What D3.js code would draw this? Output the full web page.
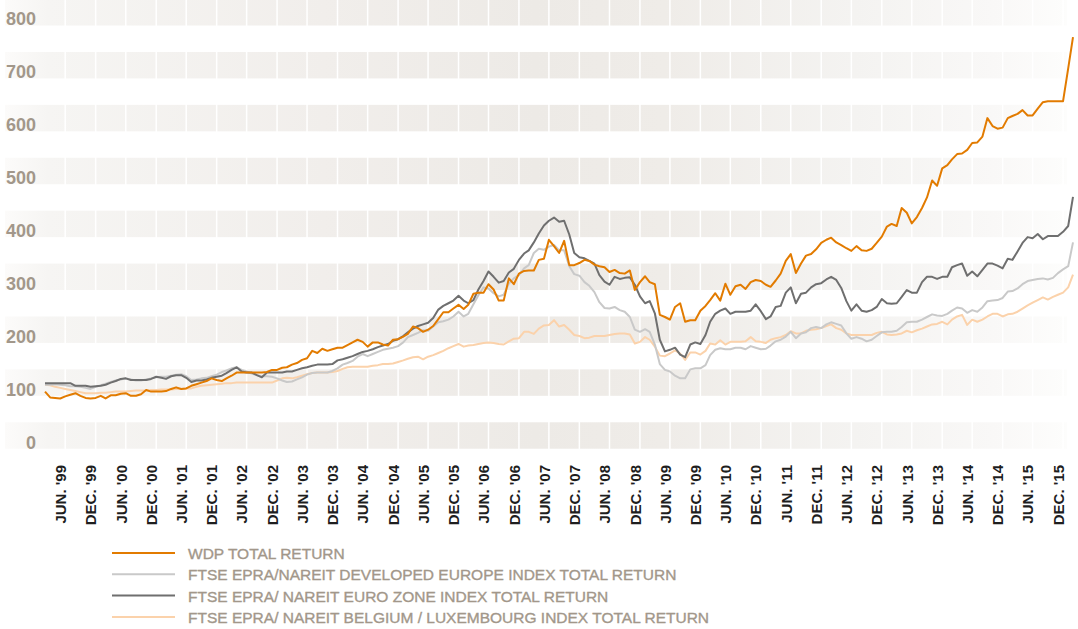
<!DOCTYPE html>
<html>
<head>
<meta charset="utf-8">
<script src="https://cdn.jsdelivr.net/npm/d3@7/dist/d3.min.js"></script>
<style>
  body { margin: 0; background: #fff; }
  svg { display: block; }
</style>
</head>
<body>
<svg id="chart" width="1078" height="629"></svg>
<script>
// monthly index values, Mar '99 -> Mar '16
const startMonth = new Date(1999, 2, 1);
const endMonth = new Date(2016, 2, 1);

const wdp = [
  83,72,71,70,74,77,80,75,71,70,
  71,75,70,76,76,79,80,75,75,78,
  86,83,83,83,84,88,91,88,89,94,
  97,100,103,108,105,103,108,113,119,119,
  119,119,119,119,120,124,124,128,129,134,
  137,143,146,160,156,164,160,163,166,166,
  171,176,181,177,168,176,176,172,170,181,
  182,187,192,206,203,196,200,207,220,233,
  233,240,247,239,247,268,270,270,286,276,
  255,255,297,286,306,311,312,312,332,334,
  370,358,345,368,322,322,326,332,330,323,
  320,318,309,313,307,306,312,275,290,301,
  290,286,228,224,219,243,250,215,218,218,
  236,245,256,269,255,287,266,282,285,277,
  290,294,292,285,281,293,306,330,343,307,
  325,340,343,352,364,370,374,365,360,354,
  349,358,350,349,353,364,376,395,400,396,
  430,421,401,413,430,450,482,472,505,511,
  522,532,533,540,553,554,565,600,585,580,
  582,600,604,608,615,605,605,618,630,632,
  632,632,632,694,753
];

const developedEurope = [
  96,96,97,96,95,93,93,92,90,88,
  92,95,98,101,104,106,108,106,104,104,
  106,108,110,111,111,113,115,116,112,105,
  106,108,109,112,115,120,123,127,129,124,
  121,117,114,112,112,111,108,104,101,102,
  106,110,115,118,119,119,119,122,127,134,
  137,141,149,154,150,154,158,162,164,166,
  169,176,186,190,194,199,198,206,214,216,
  219,225,234,225,230,248,265,280,278,269,
  263,266,287,297,303,316,322,345,353,351,
  357,360,350,350,320,305,302,290,283,271,
  252,241,240,243,237,234,224,200,196,201,
  196,172,135,124,121,113,108,108,125,127,
  127,133,152,162,165,163,163,166,166,163,
  169,166,163,164,170,178,181,187,196,184,
  193,195,203,205,203,210,214,211,208,193,
  183,186,183,178,181,188,195,196,196,198,
  205,214,215,215,219,224,229,227,226,230,
  236,242,240,232,237,234,242,254,255,256,
  260,272,273,278,286,292,294,296,297,295,
  298,307,314,320,365
];

const euroZone = [
  99,99,99,99,99,99,94,94,94,92,
  93,94,96,100,103,107,108,105,105,105,
  105,107,111,109,107,112,114,114,109,101,
  104,104,106,109,111,113,118,124,129,121,
  119,119,114,110,119,119,119,119,121,121,
  124,127,129,132,134,134,134,135,142,144,
  147,150,154,158,160,163,167,170,173,179,
  182,188,195,202,207,210,213,222,238,245,
  250,255,264,255,250,256,276,292,310,300,
  289,292,308,315,332,344,350,365,382,397,
  406,412,404,406,380,345,337,335,330,325,
  303,291,285,300,296,298,299,285,263,250,
  254,231,181,159,162,166,153,148,172,176,
  173,190,215,230,236,240,230,234,234,234,
  236,248,235,220,225,243,245,270,280,250,
  268,270,280,286,288,295,300,294,279,254,
  236,248,236,234,237,243,258,250,249,250,
  262,275,270,270,290,300,300,296,300,300,
  318,322,325,302,310,301,313,325,325,321,
  316,334,332,348,364,375,373,381,371,377,
  377,377,385,396,451
];

const belgiumLux = [
  96,95,92,90,88,86,84,82,80,80,
  80,81,81,82,83,83,83,84,85,85,
  85,86,86,87,87,87,88,88,89,89,
  92,94,95,96,97,98,99,99,100,100,
  100,100,100,100,100,100,104,108,109,108,
  110,113,116,118,119,119,119,120,122,126,
  129,130,130,130,130,132,133,135,135,136,
  139,142,145,148,149,144,149,152,156,160,
  165,169,173,168,170,171,173,175,176,175,
  173,172,178,183,184,196,196,192,202,208,
  209,218,206,209,200,190,188,184,185,188,
  188,188,190,192,193,193,191,174,177,186,
  181,168,151,150,155,161,155,143,157,157,
  153,160,174,172,180,172,177,177,177,178,
  186,178,177,175,181,184,186,190,197,193,
  193,198,200,201,203,207,210,203,200,193,
  190,190,190,190,190,194,196,191,190,191,
  193,198,195,199,202,206,210,211,215,210,
  219,225,228,209,219,215,219,225,230,230,
  225,229,230,234,240,246,251,256,261,257,
  262,266,270,280,304
];

const yTicks = [0, 100, 200, 300, 400, 500, 600, 700, 800];
const seriesNames = [
  'WDP TOTAL RETURN',
  'FTSE EPRA/NAREIT DEVELOPED EUROPE INDEX TOTAL RETURN',
  'FTSE EPRA/ NAREIT EURO ZONE INDEX TOTAL RETURN',
  'FTSE EPRA/ NAREIT BELGIUM / LUXEMBOURG INDEX TOTAL RETURN'
];
const seriesColors = ['#e27b00', '#c9c9c9', '#6f6f6f', '#fbd2ab'];
const monthNames = ['JAN.','FEB.','MAR.','APR.','MAY','JUN.','JUL.','AUG.','SEP.','OCT.','NOV.','DEC.'];

const svg = d3.select('#chart');
const months = d3.timeMonth.range(startMonth, d3.timeMonth.offset(endMonth, 1));

const x = d3.scaleTime()
  .domain([startMonth, endMonth])
  .range([45, 1073]);

const y = d3.scaleLinear()
  .domain([0, 800])
  .range([435.5, 12.3]);

// band shading, darker in the middle and fading out at both ends
const grad = svg.append('defs').append('linearGradient')
  .attr('id', 'bandFill')
  .attr('gradientUnits', 'userSpaceOnUse')
  .attr('x1', 5).attr('x2', 1067).attr('y1', 0).attr('y2', 0);
grad.selectAll('stop')
  .data([[0, '#fcfbfa'], [0.04, '#f6f5f3'], [0.3, '#f1eeeb'], [0.5, '#edeae6'], [0.62, '#efece8'], [0.8, '#f4f3f1'], [0.93, '#f9f8f7'], [1, '#fdfdfc']])
  .enter().append('stop')
  .attr('offset', d => d[0])
  .attr('stop-color', d => d[1]);

svg.append('g')
  .selectAll('rect')
  .data(yTicks)
  .enter().append('rect')
  .attr('x', 5)
  .attr('width', 1062)
  .attr('y', d => Math.max(0, y(d + 25)))
  .attr('height', d => y(d - 25) - Math.max(0, y(d + 25)))
  .attr('fill', 'url(#bandFill)');

// thin white column dividers (Mar / Sep)
const dividers = d3.timeMonth.every(6).range(startMonth, endMonth);
svg.append('g')
  .selectAll('line')
  .data(dividers)
  .enter().append('line')
  .attr('x1', d => x(d)).attr('x2', d => x(d))
  .attr('y1', 0).attr('y2', 450)
  .attr('stroke', '#fff')
  .attr('stroke-width', 1.5);

// y axis
const yAxis = svg.append('g')
  .attr('transform', 'translate(36,0)')
  .call(d3.axisLeft(y).tickValues(yTicks).tickSize(0).tickPadding(0));
yAxis.select('.domain').remove();
yAxis.selectAll('text')
  .attr('dy', null)
  .attr('y', 12.5)
  .attr('fill', '#a2978a')
  .style('font-family', '"Liberation Sans", Arial, sans-serif')
  .style('font-weight', 'bold')
  .style('font-size', '18px');

// x axis
const xTicks = months.filter(d => d.getMonth() === 5 || d.getMonth() === 11).filter(d => d < endMonth);
const xAxis = svg.append('g')
  .attr('transform', 'translate(0,465)')
  .call(d3.axisBottom(x).tickValues(xTicks).tickSize(0)
    .tickFormat(d => monthNames[d.getMonth()] + " '" + String(d.getFullYear()).slice(2)));
xAxis.select('.domain').remove();
xAxis.selectAll('text')
  .attr('x', 0)
  .attr('y', 0)
  .attr('dy', '0.35em')
  .attr('transform', 'rotate(-90)')
  .style('text-anchor', 'end')
  .attr('fill', '#1e1e1e')
  .style('font-family', '"Liberation Sans Narrow", "Arial Narrow", sans-serif')
  .style('font-weight', 'bold')
  .style('font-size', '15px');

// lines
const line = d3.line()
  .x((d, i) => x(months[i]))
  .y(d => y(d));

const drawOrder = [
  [belgiumLux, seriesColors[3]],
  [developedEurope, seriesColors[1]],
  [euroZone, seriesColors[2]],
  [wdp, seriesColors[0]]
];
svg.append('g')
  .selectAll('path')
  .data(drawOrder)
  .enter().append('path')
  .attr('d', d => line(d[0]))
  .attr('fill', 'none')
  .attr('stroke', d => d[1])
  .attr('stroke-width', 2)
  .attr('stroke-linejoin', 'round');

// legend
const legend = svg.append('g')
  .selectAll('g')
  .data(seriesNames)
  .enter().append('g')
  .attr('transform', (d, i) => `translate(0,${553 + i * 21.3})`);
legend.append('line')
  .attr('x1', 112).attr('x2', 175)
  .attr('stroke', (d, i) => seriesColors[i])
  .attr('stroke-width', 2);
legend.append('text')
  .attr('x', 188)
  .attr('y', 6)
  .attr('fill', '#a2978a')
  .attr('stroke', '#a2978a')
  .attr('stroke-width', 0.35)
  .style('font-family', '"Liberation Sans Narrow", "Arial Narrow", sans-serif')
  .style('font-size', '15.5px')
  .text(d => d);
</script>
</body>
</html>
